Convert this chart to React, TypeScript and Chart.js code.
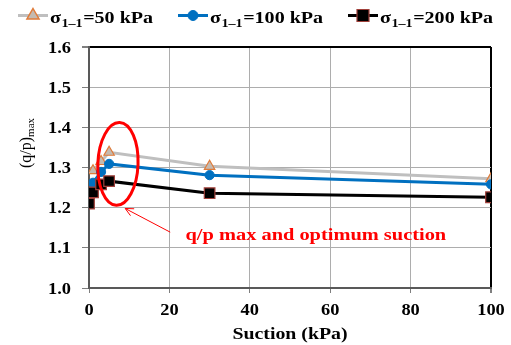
import React, { useEffect, useRef } from 'react';
import { Chart, registerables } from 'chart.js';

Chart.register(...registerables);

// Suction (kPa) at which each series was measured
const suction = [0, 1, 3, 5, 30, 100];
const suction50 = [1, 3, 5, 30, 100];

// Peak stress ratio (q/p)max for each confining stress
const qp50 = [1.292, 1.315, 1.338, 1.303, 1.272];
const qp100 = [1.234, 1.262, 1.289, 1.309, 1.281, 1.258];
const qp200 = [1.21, 1.238, 1.258, 1.266, 1.236, 1.226];

const xTicks = [0, 20, 40, 60, 80, 100];
const yTicks = [1.0, 1.1, 1.2, 1.3, 1.4, 1.5, 1.6];

const legendSymbol = 'σ';
const legendSub = '1–1';
const legendRest = ['=50 kPa', '=100 kPa', '=200 kPa'];

const xTitle = 'Suction (kPa)';
const yTitleMain = '(q/p)';
const yTitleSub = 'max';

const noteText = 'q/p max and optimum suction';
// highlight ellipse (centre and radii, data units)
const ellipseCentre = [7.2, 1.309];
const ellipseRadii = [5, 0.103];
// pointer arrow from the note towards the ellipse (data units)
const arrowFrom = [20.2, 1.139];
const arrowTo = [9, 1.198];
const notePos = [24, 1.12];

const SERIF = '"Liberation Serif", "Times New Roman", serif';

const GREY = '#BFBFBF';
const TRI_FILL = '#C4BAB0';
const TRI_EDGE = '#E07B39';
const BLUE = '#0070C0';
const SQ_EDGE = '#A0403A';

function wideText(
  ctx: CanvasRenderingContext2D,
  text: string,
  x: number,
  y: number,
  font: string,
  align: CanvasTextAlign,
  sx: number,
  color: string
) {
  ctx.save();
  ctx.translate(x, y);
  ctx.scale(sx, 1);
  ctx.font = font;
  ctx.textAlign = align;
  ctx.textBaseline = 'alphabetic';
  ctx.fillStyle = color;
  ctx.fillText(text, 0, 0);
  ctx.restore();
}

function textWidth(ctx: CanvasRenderingContext2D, text: string, font: string, sx: number) {
  ctx.save();
  ctx.font = font;
  const w = ctx.measureText(text).width * sx;
  ctx.restore();
  return w;
}

function marker(ctx: CanvasRenderingContext2D, style: string, cx: number, cy: number) {
  ctx.save();
  ctx.beginPath();
  if (style === 'triangle') {
    const r = 7;
    ctx.moveTo(cx, cy - r);
    ctx.lineTo(cx + r * 0.866, cy + r / 2);
    ctx.lineTo(cx - r * 0.866, cy + r / 2);
    ctx.closePath();
    ctx.fillStyle = TRI_FILL;
    ctx.strokeStyle = TRI_EDGE;
    ctx.lineWidth = 1.5;
  } else if (style === 'circle') {
    ctx.arc(cx, cy, 5, 0, Math.PI * 2);
    ctx.fillStyle = BLUE;
    ctx.strokeStyle = BLUE;
    ctx.lineWidth = 1;
  } else {
    ctx.rect(cx - 6, cy - 6, 12, 12);
    ctx.fillStyle = '#000';
    ctx.strokeStyle = SQ_EDGE;
    ctx.lineWidth = 1.2;
  }
  ctx.fill();
  ctx.stroke();
  ctx.restore();
}

const legendItems = [
  { color: GREY, style: 'triangle', left: 18 },
  { color: BLUE, style: 'circle', left: 178 },
  { color: '#000', style: 'rect', left: 348 },
];

const decorations = {
  id: 'decorations',
  afterDatasetsDraw(chart: any) {
    const { ctx } = chart;
    const xs = chart.scales.x;
    const ys = chart.scales.y;

    // red ellipse around the peak values
    const cx = xs.getPixelForValue(ellipseCentre[0]);
    const cy = ys.getPixelForValue(ellipseCentre[1]);
    const rx = xs.getPixelForValue(ellipseCentre[0] + ellipseRadii[0]) - cx;
    const ry = cy - ys.getPixelForValue(ellipseCentre[1] + ellipseRadii[1]);
    ctx.save();
    ctx.strokeStyle = '#FF0000';
    ctx.lineWidth = 3;
    ctx.beginPath();
    ctx.ellipse(cx, cy, rx, ry, 0.04, 0, Math.PI * 2);
    ctx.stroke();

    // arrow
    const ax0 = xs.getPixelForValue(arrowFrom[0]);
    const ay0 = ys.getPixelForValue(arrowFrom[1]);
    const ax1 = xs.getPixelForValue(arrowTo[0]);
    const ay1 = ys.getPixelForValue(arrowTo[1]);
    ctx.lineWidth = 1;
    ctx.beginPath();
    ctx.moveTo(ax0, ay0);
    ctx.lineTo(ax1, ay1);
    const ang = Math.atan2(ay0 - ay1, ax0 - ax1);
    const head = 9;
    ctx.moveTo(ax1 + head * Math.cos(ang + 0.45), ay1 + head * Math.sin(ang + 0.45));
    ctx.lineTo(ax1, ay1);
    ctx.lineTo(ax1 + head * Math.cos(ang - 0.45), ay1 + head * Math.sin(ang - 0.45));
    ctx.stroke();
    ctx.restore();

    wideText(
      ctx,
      noteText,
      xs.getPixelForValue(notePos[0]),
      ys.getPixelForValue(notePos[1]),
      `bold 17px ${SERIF}`,
      'left',
      1.2,
      '#FF0000'
    );
  },
  afterDraw(chart: any) {
    const { ctx, chartArea } = chart;
    const xs = chart.scales.x;
    const ys = chart.scales.y;
    const tickFont = `bold 16px ${SERIF}`;

    xTicks.forEach((v) => {
      wideText(ctx, String(v), xs.getPixelForValue(v), 315, tickFont, 'center', 1.15, '#000');
    });
    yTicks.forEach((v) => {
      wideText(ctx, v.toFixed(1), 71, ys.getPixelForValue(v) + 5.5, tickFont, 'right', 1.15, '#000');
    });

    wideText(
      ctx,
      xTitle,
      (chartArea.left + chartArea.right) / 2,
      339,
      `bold 16px ${SERIF}`,
      'center',
      1.24,
      '#000'
    );

    // rotated y title with subscript
    ctx.save();
    ctx.translate(31, 168);
    ctx.rotate(-Math.PI / 2);
    ctx.fillStyle = '#000';
    ctx.textBaseline = 'alphabetic';
    ctx.textAlign = 'left';
    ctx.font = `16px ${SERIF}`;
    ctx.fillText(yTitleMain, 0, 0);
    const w = ctx.measureText(yTitleMain).width;
    ctx.font = `11px ${SERIF}`;
    ctx.fillText(yTitleSub, w, 3);
    ctx.restore();

    // legend
    const mainFont = `bold 17px ${SERIF}`;
    const subFont = `bold 12px ${SERIF}`;
    const sx = 1.18;
    legendItems.forEach((it, i) => {
      const ly = 15.5;
      ctx.save();
      ctx.strokeStyle = it.color;
      ctx.lineWidth = 3;
      ctx.beginPath();
      ctx.moveTo(it.left, ly);
      ctx.lineTo(it.left + 30, ly);
      ctx.stroke();
      ctx.restore();
      marker(ctx, it.style, it.left + 15, ly);
      let tx = it.left + 32;
      wideText(ctx, legendSymbol, tx, 23, mainFont, 'left', sx, '#000');
      tx += textWidth(ctx, legendSymbol, mainFont, sx) + 0.5;
      wideText(ctx, legendSub, tx, 26.5, subFont, 'left', sx, '#000');
      tx += textWidth(ctx, legendSub, subFont, sx) + 0.5;
      wideText(ctx, legendRest[i], tx, 23, mainFont, 'left', sx, '#000');
    });
  },
};

export default function App() {
  const ref = useRef<HTMLCanvasElement>(null);

  useEffect(() => {
    const canvas = ref.current;
    if (!canvas) return;
    const pts = (xv: number[], yv: number[]) => xv.map((x, i) => ({ x, y: yv[i] }));

    const chart = new Chart(canvas, {
      type: 'line',
      data: {
        datasets: [
          {
            label: legendSymbol + legendSub + legendRest[0],
            data: pts(suction50, qp50),
            borderColor: GREY,
            borderWidth: 3,
            pointStyle: 'triangle',
            pointRadius: 6,
            pointBackgroundColor: TRI_FILL,
            pointBorderColor: TRI_EDGE,
            pointBorderWidth: 1.2,
            order: 3,
          },
          {
            label: legendSymbol + legendSub + legendRest[1],
            data: pts(suction, qp100),
            borderColor: BLUE,
            borderWidth: 3,
            pointStyle: 'circle',
            pointRadius: 4.6,
            pointBackgroundColor: BLUE,
            pointBorderColor: BLUE,
            pointBorderWidth: 1,
            order: 2,
          },
          {
            label: legendSymbol + legendSub + legendRest[2],
            data: pts(suction, qp200),
            borderColor: '#000',
            borderWidth: 3,
            pointStyle: 'rect',
            pointRadius: 7.5,
            pointBackgroundColor: '#000',
            pointBorderColor: SQ_EDGE,
            pointBorderWidth: 1.2,
            order: 1,
          },
        ],
      },
      options: {
        animation: false,
        responsive: true,
        maintainAspectRatio: false,
        layout: { padding: { left: 89, right: 20, top: 47, bottom: 57 } },
        plugins: {
          legend: { display: false },
          tooltip: { enabled: false },
        },
        scales: {
          x: {
            type: 'linear',
            min: 0,
            max: 100,
            ticks: { stepSize: 20, display: false },
            grid: {
              color: (c: any) => (c.tick && c.tick.value === 100 ? '#000' : '#ADADAD'),
              lineWidth: (c: any) => (c.tick && c.tick.value === 100 ? 2 : 1),
              tickColor: '#7F7F7F',
              tickLength: 5,
            },
            border: { color: '#595959', width: 2 },
            afterFit: (s: any) => {
              s.height = 0;
            },
          },
          y: {
            min: 1.0,
            max: 1.6,
            ticks: { stepSize: 0.1, display: false },
            grid: {
              color: (c: any) => (c.tick && Math.abs(c.tick.value - 1.6) < 1e-6 ? '#000' : '#ADADAD'),
              lineWidth: (c: any) => (c.tick && Math.abs(c.tick.value - 1.6) < 1e-6 ? 2 : 1),
              tickColor: '#7F7F7F',
              tickLength: 7,
            },
            border: { color: '#595959', width: 2 },
            afterFit: (s: any) => {
              s.width = 0;
            },
          },
        },
      },
      plugins: [decorations],
    });

    return () => chart.destroy();
  }, []);

  return (
    <div style={{ position: 'fixed', left: 0, top: 0, width: 511, height: 345, background: '#fff' }}>
      <canvas ref={ref} />
    </div>
  );
}
